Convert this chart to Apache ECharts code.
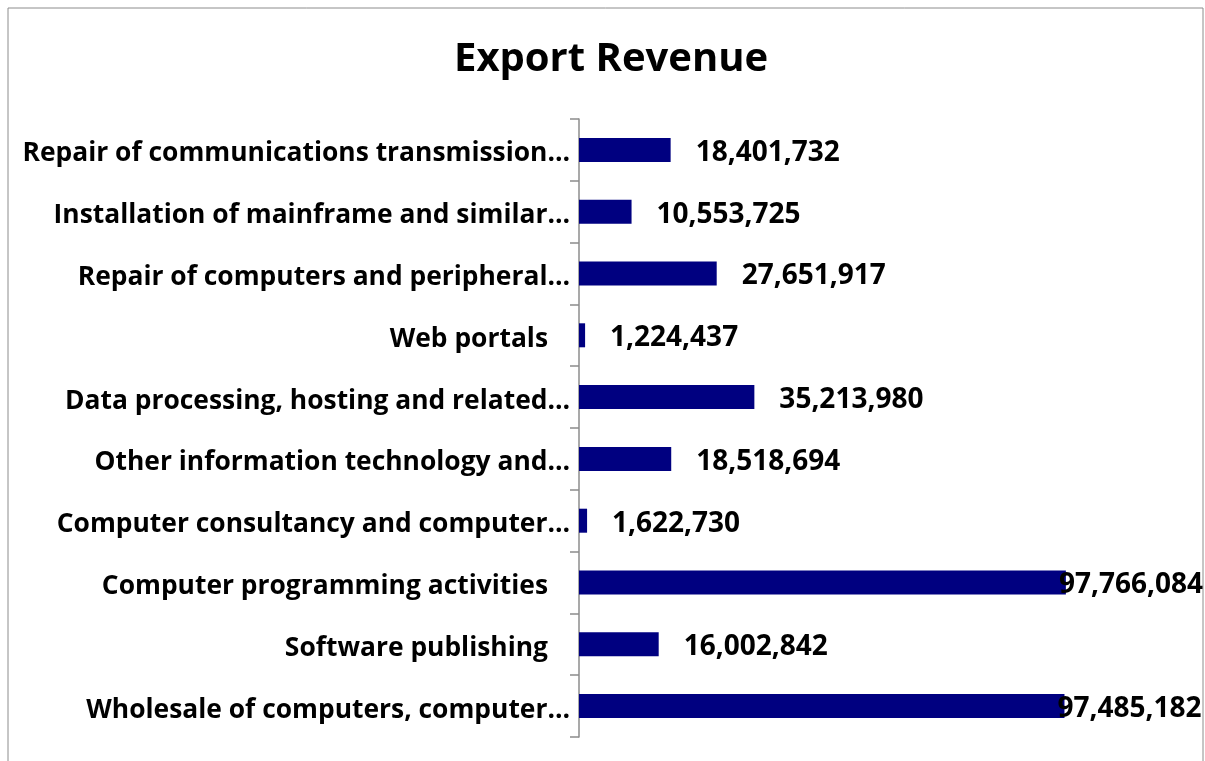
<!DOCTYPE html>
<html>
<head>
<meta charset="utf-8">
<title>Export Revenue</title>
<script src="https://cdn.jsdelivr.net/npm/echarts@6/dist/echarts.min.js"></script>
<style>
	html, body { margin: 0; padding: 0; background: #fff; }
	#main { width: 1205px; height: 761px; }
</style>
</head>
<body>
<div id="main"></div>
<script>
// categories, top to bottom as shown in the chart
var categories = [
	'Repair of communications transmission…',
	'Installation of mainframe and similar…',
	'Repair of computers and peripheral…',
	'Web portals',
	'Data processing, hosting and related…',
	'Other information technology and…',
	'Computer consultancy and computer…',
	'Computer programming activities',
	'Software publishing',
	'Wholesale of computers, computer…'
];
var revenue = [18401732, 10553725, 27651917, 1224437, 35213980, 18518694, 1622730, 97766084, 16002842, 97485182];
var axisMax = 100000000;

function fmt(v) {
	return String(v).replace(/\B(?=(\d{3})+(?!\d))/g, ',');
}

var myChart = echarts.init(document.getElementById('main'));

var option = {
	backgroundColor: '#fff',
	textStyle: { fontFamily: 'Open Sans' },
	title: {
		text: 'Export Revenue',
		left: 449,
		top: 35,
		textStyle: { fontSize: 40, fontWeight: 'bold', color: '#000', fontFamily: 'Open Sans' }
	},
	graphic: [{
		type: 'rect',
		shape: { x: 8, y: 8, width: 1195, height: 800 },
		style: { fill: 'none', stroke: '#8c8c8c', lineWidth: 1 },
		silent: true
	}],
	grid: { left: 579, right: 128, top: 119, bottom: 24 },
	xAxis: {
		type: 'value',
		min: 0,
		max: axisMax,
		show: false
	},
	yAxis: {
		type: 'category',
		data: categories,
		inverse: true,
		axisLine: { show: true, lineStyle: { color: '#8c8c8c', width: 1.5 } },
		axisTick: { show: true, length: 9, lineStyle: { color: '#8c8c8c', width: 1.5 } },
		axisLabel: {
			margin: 9,
			color: '#000',
			fontSize: 26.4,
			fontWeight: 'bold',
			fontFamily: 'Open Sans',
			padding: [8, 0, 0, 0],
			formatter: function (v) {
				// Excel leaves extra room after untruncated names
				return v.slice(-1) === '…' ? v : '{pad|' + v + '}';
			},
			rich: {
				pad: { fontSize: 26.4, fontWeight: 'bold', color: '#000', fontFamily: 'Open Sans', padding: [0, 22, 0, 0] }
			}
		}
	},
	series: [{
		type: 'bar',
		barWidth: 24,
		itemStyle: { color: '#000080' },
		data: revenue.map(function (v) {
			return {
				value: v,
				label: { distance: v > 0.9 * axisMax ? -7 : 25 }
			};
		}),
		label: {
			show: true,
			position: 'right',
			color: '#000',
			fontSize: 28,
			fontWeight: 'bold',
			fontFamily: 'Open Sans',
			offset: [0, 3],
			formatter: function (p) { return fmt(p.value); }
		}
	}]
};
myChart.setOption(option);
</script>
</body>
</html>
